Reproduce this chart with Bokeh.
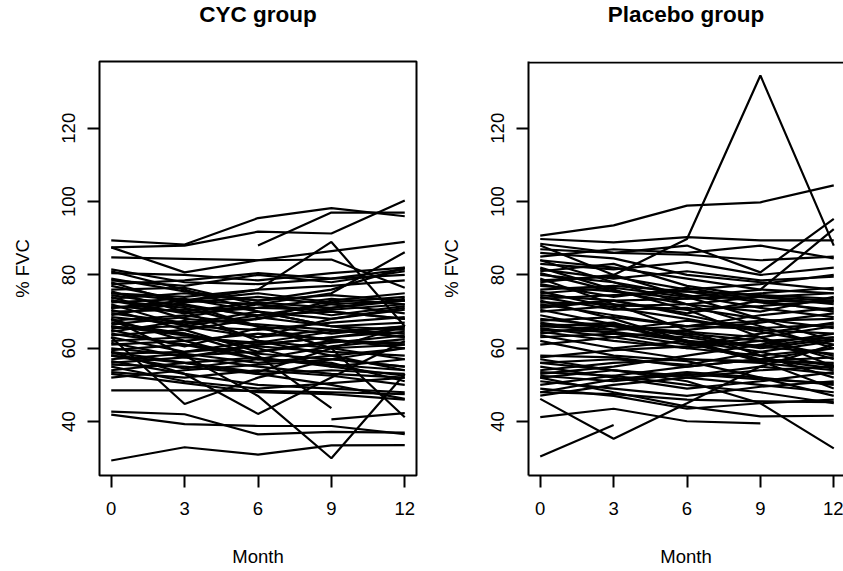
import math
from bokeh.plotting import figure
from bokeh.layouts import row
from bokeh.models import Range1d, FixedTicker, Span, Title
from bokeh.embed import file_html
from bokeh.resources import INLINE

months = [0, 3, 6, 9, 12]
x_ticks = [0, 3, 6, 9, 12]
y_ticks = [40, 60, 80, 100, 120]
N = None

# % FVC per patient at months 0, 3, 6, 9, 12 (None = missing)
cyc_fvc = [
    [89.4, 88.3, 95.5, 98.2, 96.0],
    [87.5, 88.0, 91.8, 91.3, 100.3],
    [N, N, 88.0, 97.0, 97.0],
    [87.5, 80.7, 84.0, 86.5, 89.0],
    [84.8, 84.4, 84.0, 84.2, 76.5],
    [75.0, 73.0, 76.0, 89.0, 66.0],
    [63.0, 44.8, 52.0, 57.0, 60.0],
    [68.0, 58.0, 47.0, 30.0, 53.0],
    [59.0, 53.0, 42.1, 52.0, 62.0],
    [66.0, 64.0, 58.0, 43.7, N],
    [N, N, N, 40.6, 42.3],
    [42.7, 42.0, 36.5, 37.2, 37.0],
    [41.9, 39.3, 38.8, 38.8, 36.6],
    [29.4, 33.0, 31.0, 33.5, 33.6],
    [73.0, 71.0, 66.0, 60.0, 41.2],
    [48.5, 48.5, 48.4, 48.0, 47.5],
    [58.0, 56.0, 53.0, 50.0, 46.2],
    [81.5, 78.0, 77.5, 79.0, 81.5],
    [81.0, 76.0, 70.0, 66.0, 63.0],
    [80.5, 80.0, 78.5, 80.5, 82.0],
    [79.0, 75.5, 73.0, 74.5, 73.0],
    [78.0, 72.0, 66.0, 60.0, 57.0],
    [77.5, 78.5, 80.5, 79.0, 80.0],
    [77.0, 73.0, 75.0, 72.5, 74.0],
    [76.0, 76.5, 72.0, 70.0, 68.0],
    [75.5, 70.0, 62.0, 58.0, 54.0],
    [75.0, 74.0, 76.0, 77.0, 78.5],
    [74.5, 71.5, 69.0, 72.0, 73.0],
    [74.0, 68.0, 66.5, 65.0, 64.0],
    [73.5, 75.0, 73.0, 76.0, 82.0],
    [73.0, 69.5, 71.0, 73.5, 72.0],
    [72.5, 73.5, 70.0, 68.0, 70.5],
    [72.0, 66.0, 63.0, 68.0, 71.0],
    [71.5, 70.0, 72.5, 71.0, 73.5],
    [71.0, 72.0, 68.5, 66.0, 65.0],
    [70.5, 65.0, 59.0, 62.0, 61.0],
    [70.0, 70.5, 71.0, 70.5, 72.0],
    [69.5, 67.0, 68.0, 73.0, 75.0],
    [69.0, 72.5, 74.0, 72.0, 69.5],
    [68.5, 66.5, 70.0, 66.0, 67.0],
    [68.0, 62.0, 57.0, 60.5, 62.5],
    [67.5, 69.0, 66.0, 64.0, 66.0],
    [67.0, 64.0, 60.0, 55.0, 52.5],
    [66.5, 68.5, 72.0, 69.0, 71.5],
    [66.0, 63.5, 61.0, 63.0, 64.5],
    [65.5, 66.0, 65.0, 67.0, 68.5],
    [65.0, 60.5, 65.5, 62.0, 61.5],
    [64.5, 67.5, 63.0, 65.0, 63.0],
    [64.0, 61.0, 58.5, 57.0, 55.0],
    [63.5, 65.0, 68.0, 71.0, 73.0],
    [63.0, 59.0, 62.0, 60.0, 61.0],
    [62.0, 63.0, 61.5, 64.5, 66.0],
    [61.5, 57.5, 55.0, 53.0, 52.0],
    [61.0, 62.0, 64.0, 62.5, 60.0],
    [60.0, 58.0, 59.0, 61.5, 63.5],
    [59.5, 61.0, 57.0, 55.5, 54.0],
    [59.0, 56.0, 53.5, 60.0, 66.0],
    [58.5, 59.0, 60.5, 59.0, 58.0],
    [58.0, 54.5, 57.0, 56.0, 51.0],
    [57.0, 58.5, 56.0, 58.0, 60.0],
    [56.5, 53.0, 50.0, 49.0, 48.0],
    [56.0, 57.5, 61.0, 63.0, 65.5],
    [55.5, 55.0, 53.0, 54.0, 53.0],
    [55.0, 51.0, 49.0, 50.5, 52.0],
    [54.0, 56.0, 57.5, 55.0, 57.0],
    [53.5, 52.0, 54.0, 52.5, 50.0],
    [53.0, 50.5, 48.0, 47.5, 46.0],
    [52.0, 54.0, 55.5, 57.0, 55.0],
    [71.0, 73.0, 72.0, 75.0, 86.2],
    [N, 66.0, 69.0, 70.0, 68.0],
    [78.5, 77.0, 80.0, 78.0, 81.0],
]

placebo_fvc = [
    [90.7, 93.5, 98.9, 99.8, 104.4],
    [89.8, 88.9, 90.3, 89.4, 89.4],
    [78.0, 80.0, 89.8, 134.4, 88.0],
    [88.5, 86.0, 88.0, 80.7, 95.3],
    [84.0, 82.0, 79.0, 76.0, 92.5],
    [30.5, 39.1, N, N, N],
    [46.2, 35.3, 45.0, 55.0, 61.0],
    [41.2, 43.5, 40.1, 39.5, N],
    [56.0, 54.0, 51.0, 45.0, 32.7],
    [52.0, 48.0, 44.1, 41.4, 41.6],
    [48.0, 47.5, 46.0, 45.5, 45.3],
    [88.0, 80.0, 74.0, 68.0, 62.0],
    [87.0, 86.0, 85.5, 84.0, 85.0],
    [86.0, 84.5, 80.0, 78.0, 76.0],
    [85.0, 87.0, 86.0, 88.0, 84.5],
    [84.0, 78.0, 72.0, 66.0, 60.0],
    [83.0, 81.5, 83.5, 80.0, 82.0],
    [82.0, 76.0, 70.5, 63.0, 55.0],
    [81.5, 79.0, 81.0, 78.5, 79.5],
    [81.0, 83.0, 77.0, 74.0, 73.0],
    [80.5, 75.5, 73.5, 75.0, 76.5],
    [80.0, 78.0, 74.5, 71.0, 68.5],
    [79.0, 72.0, 65.0, 58.0, 52.0],
    [78.5, 79.5, 76.0, 77.5, 80.0],
    [77.5, 74.0, 76.5, 73.0, 72.5],
    [77.0, 75.5, 72.0, 70.0, 74.0],
    [76.0, 77.0, 75.5, 74.5, 73.5],
    [75.5, 71.0, 68.0, 64.5, 61.0],
    [75.0, 76.5, 74.0, 76.0, 75.0],
    [74.5, 73.0, 69.5, 73.0, 70.0],
    [74.0, 70.5, 71.0, 68.0, 65.5],
    [73.5, 74.5, 75.5, 72.5, 70.5],
    [73.0, 68.0, 62.0, 57.0, 54.5],
    [72.5, 72.0, 70.5, 71.5, 73.0],
    [72.0, 69.0, 66.0, 67.5, 68.0],
    [71.0, 73.0, 69.0, 65.0, 64.0],
    [70.5, 66.5, 64.0, 62.0, 58.0],
    [70.0, 71.5, 72.0, 74.0, 72.0],
    [69.0, 65.0, 67.5, 65.5, 66.5],
    [68.0, 66.0, 62.0, 56.5, 56.0],
    [67.5, 68.5, 66.0, 69.0, 71.0],
    [67.0, 64.0, 63.0, 60.0, 62.5],
    [66.5, 66.0, 64.5, 63.0, 57.0],
    [66.0, 67.0, 61.5, 56.5, 49.0],
    [65.5, 63.0, 65.0, 67.0, 69.5],
    [65.0, 64.5, 62.0, 59.0, 55.0],
    [64.5, 62.0, 60.0, 62.0, 63.0],
    [64.0, 66.5, 63.5, 60.5, 58.5],
    [63.5, 60.0, 57.0, 56.0, 54.0],
    [63.0, 64.0, 61.0, 64.0, 67.0],
    [62.0, 58.0, 56.5, 52.0, 47.0],
    [61.0, 63.0, 60.0, 58.0, 60.0],
    [58.0, 57.5, 55.0, 57.0, 55.5],
    [57.5, 59.5, 60.5, 63.0, 66.0],
    [57.0, 54.0, 52.0, 50.0, 48.0],
    [56.0, 57.0, 55.5, 59.0, 62.0],
    [55.0, 52.0, 49.0, 51.0, 53.5],
    [54.0, 56.0, 57.0, 56.5, 57.5],
    [53.5, 52.5, 50.0, 48.0, 45.0],
    [53.0, 55.0, 58.0, 61.0, 64.0],
    [52.5, 51.0, 53.0, 51.5, 50.5],
    [52.0, 54.0, 52.5, 55.0, 53.0],
    [51.0, 49.0, 47.0, 49.5, 51.0],
    [50.0, 52.5, 55.0, 57.0, 60.0],
    [49.0, 47.0, 43.5, 45.0, 46.0],
    [47.1, 50.0, 52.0, 54.0, 55.0],
    [48.0, 51.5, 53.5, 52.0, 50.0],
    [66.0, 65.0, 66.0, 65.3, N],
    [N, 60.0, 62.0, 60.5, 63.0],
    [71.5, 73.0, 73.5, 74.0, 75.0],
]

FONT = "Liberation Sans"
Y0, Y1 = 25.3, 138.2
FRAME_H = 414
PX_PER_MONTH = 24.46


def to_xy(data):
    xs, ys = [], []
    for series in data:
        xs.append(list(months))
        ys.append([float("nan") if v is None else v for v in series])
    return xs, ys


def style_axis(ax, ticks):
    ax.ticker = FixedTicker(ticks=ticks)
    ax.minor_tick_line_color = None
    ax.major_tick_in = 0
    ax.major_tick_out = 12
    ax.major_tick_line_width = 2
    ax.major_tick_line_color = "black"
    ax.major_label_text_font = FONT
    ax.major_label_text_font_size = "18.5px"
    ax.major_label_text_color = "black"
    ax.axis_label_text_font = FONT
    ax.axis_label_text_font_size = "18.5px"
    ax.axis_label_text_font_style = "normal"
    ax.axis_label_text_color = "black"


def panel(title, data, frame_w, b_left, b_right, boxed):
    x_end = -0.48 + frame_w / PX_PER_MONTH
    p = figure(frame_width=frame_w, frame_height=FRAME_H,
               x_range=Range1d(-0.48, x_end), y_range=Range1d(Y0, Y1),
               min_border_left=b_left, min_border_right=b_right,
               min_border_top=61, min_border_bottom=95,
               x_axis_label="Month", y_axis_label="% FVC",
               output_backend="svg", toolbar_location=None)
    # blank spacer panel between the frame and the title
    p.add_layout(Title(text=" ", text_font=FONT, text_font_size="10px",
                       standoff=20), "above")
    p.title = Title(text=title, align="center", vertical_align="top",
                    text_font=FONT, text_font_size="22.5px",
                    text_font_style="bold", text_color="black", standoff=0)
    p.grid.visible = False
    p.background_fill_color = "white"
    p.border_fill_color = "white"
    xs, ys = to_xy(data)
    p.multi_line(xs, ys, line_color="black", line_width=2.2)

    style_axis(p.xaxis[0], x_ticks)
    style_axis(p.yaxis[0], y_ticks)
    p.xaxis[0].major_label_standoff = 14
    p.xaxis[0].axis_label_standoff = 28
    p.yaxis[0].major_label_orientation = "vertical"
    p.yaxis[0].major_label_standoff = 12
    p.yaxis[0].axis_label_standoff = 27

    if boxed:
        p.outline_line_color = "black"
        p.outline_line_width = 2
        p.outline_line_alpha = 1.0
        p.xaxis[0].axis_line_color = None
        p.yaxis[0].axis_line_color = None
    else:
        p.outline_line_color = None
        p.xaxis[0].axis_line_width = 2
        p.yaxis[0].axis_line_width = 2
        px_per_unit = FRAME_H / (Y1 - Y0)
        p.add_layout(Span(location=Y1 - 1.0 / px_per_unit, dimension="width",
                          line_color="black", line_width=2))
    return p


left = panel("CYC group", cyc_fvc, 317, 99, 12, True)
right = panel("Placebo group", placebo_fvc, 315, 100, 0, False)

layout = row(left, right)
open("out.html", "w").write(file_html(layout, INLINE))
